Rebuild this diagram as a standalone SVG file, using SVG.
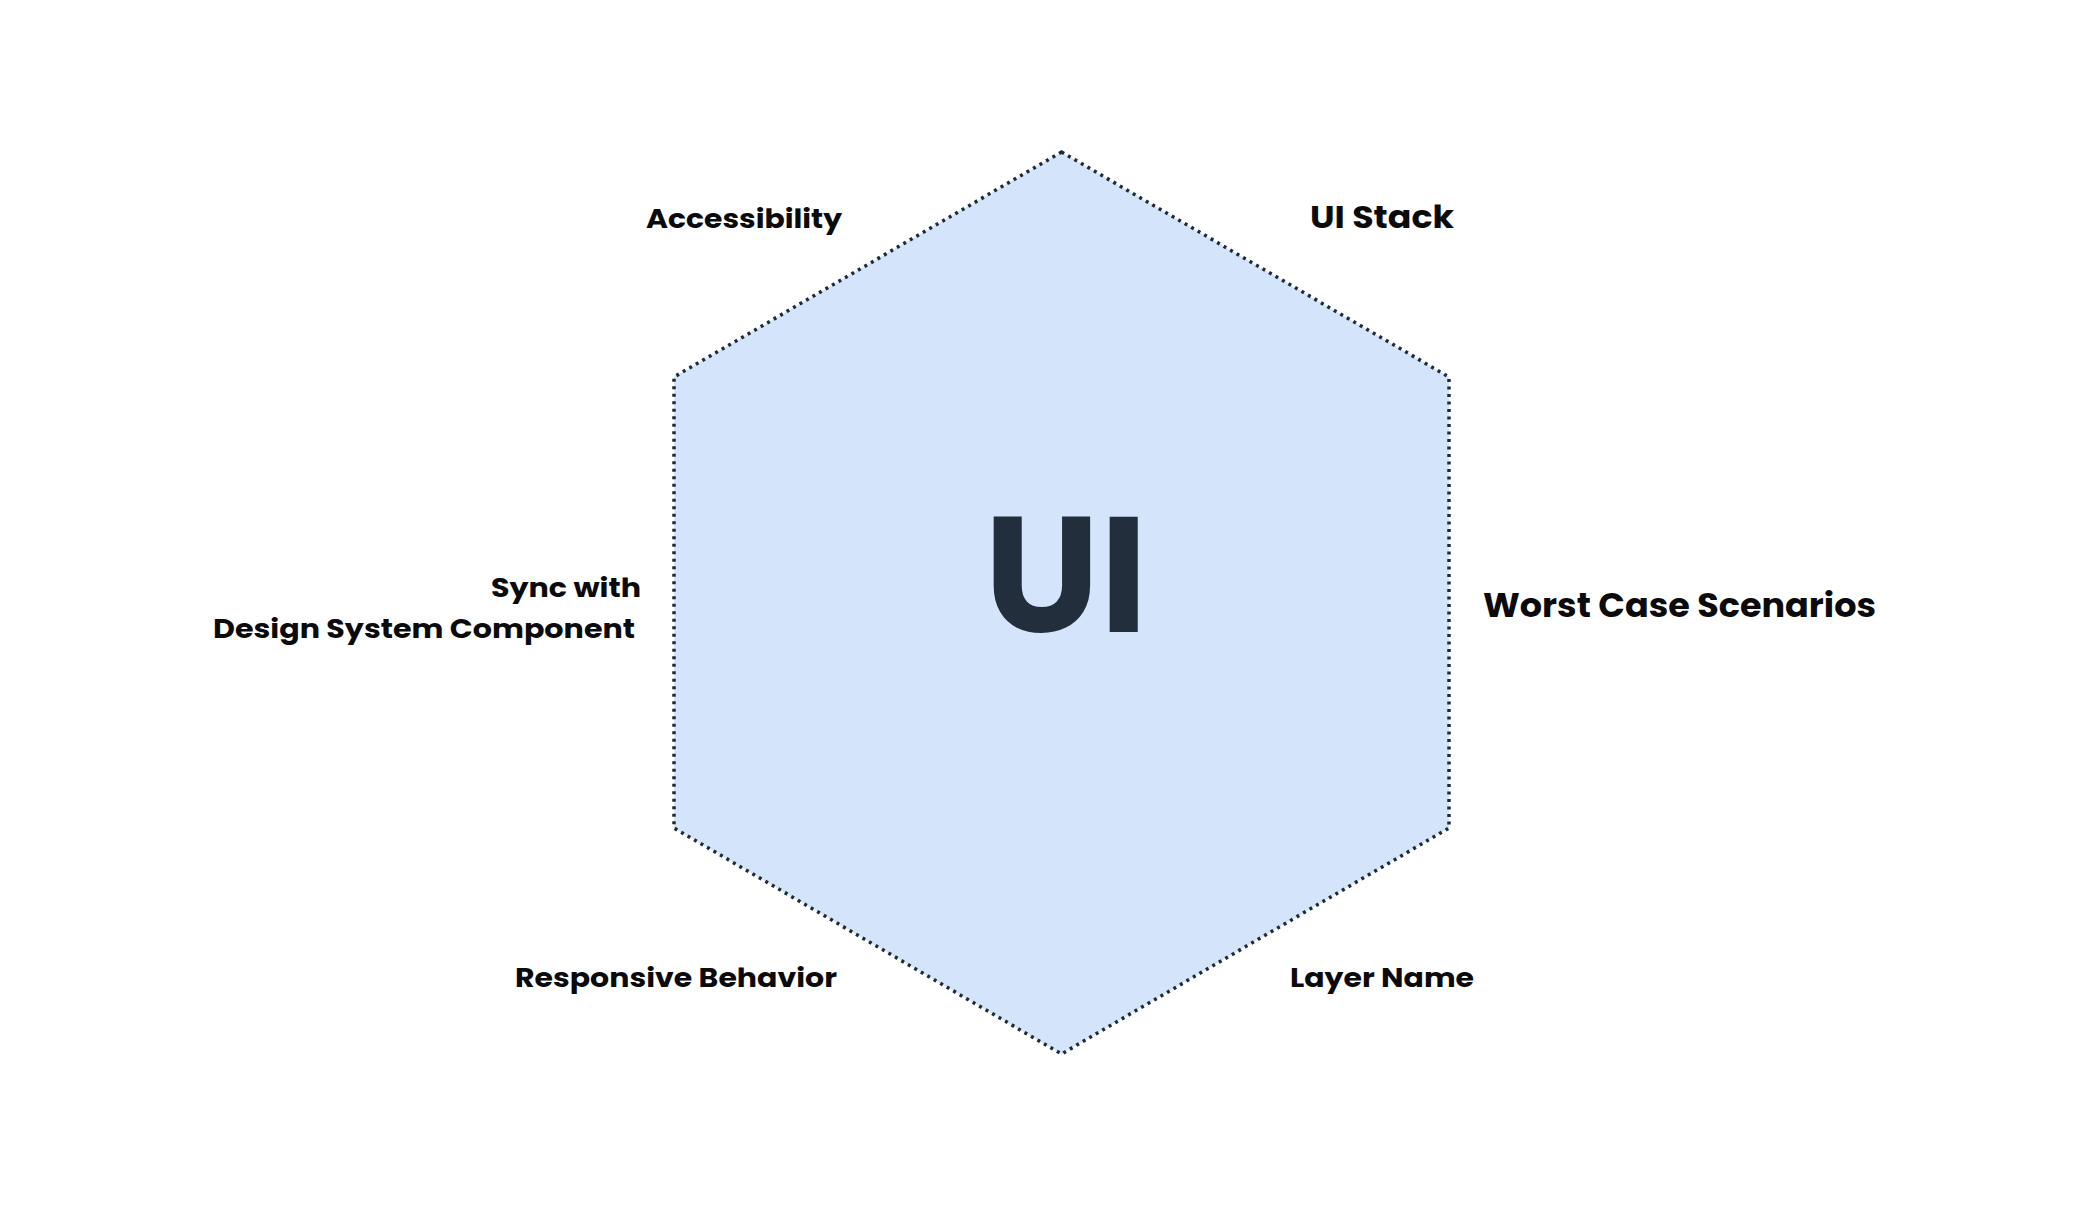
<svg xmlns="http://www.w3.org/2000/svg" width="2092" height="1222" viewBox="0 0 2092 1222">
  <style>
    .lbl { font-family: Poppins, Inter, "Liberation Sans", sans-serif; font-weight: 700; fill: #0b0b0d; }
    .hex { fill: #d3e4fb; stroke: #1f2a37; stroke-width: 3.5; stroke-dasharray: 3 4.5; }
    .center { font-family: Poppins, Inter, "Liberation Sans", sans-serif; font-weight: 700; fill: #222e3c; }
  </style>
  <rect width="2092" height="1222" fill="#ffffff"/>
  <g id="hexagon">
    <polygon class="hex" points="1061.5,152 1449,377 1449,828 1061.5,1054 674,828 674,377"/>
    <text class="center" x="1066" y="632" font-size="164" text-anchor="middle">UI</text>
  </g>
  <g id="connectors"></g>
  <g id="label-accessibility">
    <text class="lbl" x="646" y="228" font-size="27" textLength="196" lengthAdjust="spacingAndGlyphs">Accessibility</text>
  </g>
  <g id="label-ui-stack">
    <text class="lbl" x="1310" y="228" font-size="31" textLength="144" lengthAdjust="spacingAndGlyphs">UI Stack</text>
  </g>
  <g id="label-sync">
    <text class="lbl" x="641" y="597" font-size="27" text-anchor="end" textLength="150" lengthAdjust="spacingAndGlyphs">Sync with</text>
    <text class="lbl" x="635" y="638" font-size="27" text-anchor="end" textLength="422" lengthAdjust="spacingAndGlyphs">Design System Component</text>
  </g>
  <g id="label-worst-case">
    <text class="lbl" x="1483" y="617" font-size="34" textLength="393" lengthAdjust="spacingAndGlyphs">Worst Case Scenarios</text>
  </g>
  <g id="label-responsive">
    <text class="lbl" x="515" y="987" font-size="27" textLength="322" lengthAdjust="spacingAndGlyphs">Responsive Behavior</text>
  </g>
  <g id="label-layer-name">
    <text class="lbl" x="1290" y="987" font-size="27" textLength="184" lengthAdjust="spacingAndGlyphs">Layer Name</text>
  </g>
</svg>
